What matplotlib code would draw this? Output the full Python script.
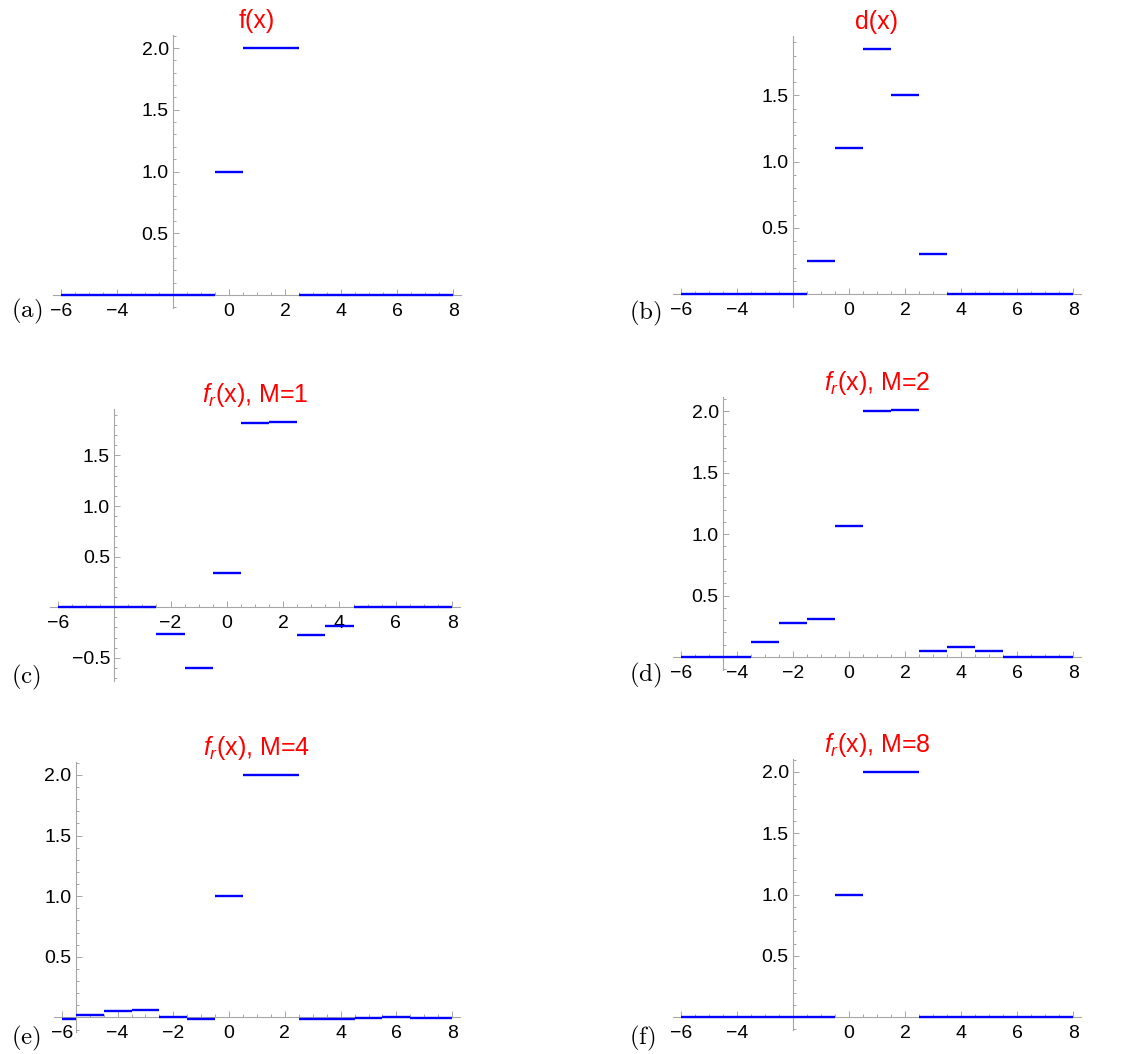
import matplotlib
matplotlib.use('Agg')
import matplotlib.pyplot as plt
import numpy as np
from matplotlib.ticker import MultipleLocator, FuncFormatter

plt.rcParams['font.family'] = ['Liberation Sans', 'DejaVu Sans']
plt.rcParams['mathtext.fontset'] = 'custom'
plt.rcParams['mathtext.it'] = 'Liberation Sans:italic'
plt.rcParams['mathtext.rm'] = 'Liberation Sans'

# sample positions (each value is a step of width 1 centred on n)
n = np.arange(-6, 9)

f_vals = [0, 0, 0, 0, 0, 0, 1, 2, 2, 0, 0, 0, 0, 0, 0]
d_vals = [0, 0, 0, 0, 0, 0.25, 1.1, 1.85, 1.5, 0.3, 0, 0, 0, 0, 0]
fr1_vals = [0, 0, 0, 0, -0.26, -0.6, 0.338, 1.817, 1.83, -0.276, -0.187, 0, 0, 0, 0]
fr2_vals = [0, 0, 0, 0.12, 0.276, 0.311, 1.066, 2.0, 2.011, 0.049, 0.079, 0.049, 0, 0, 0]
fr4_vals = [-0.01, 0.017, 0.05, 0.058, 0.006, -0.01, 1.0, 2.0, 2.0,
            -0.013, -0.01, -0.005, 0.003, -0.005, -0.008]
fr8_vals = [0, 0, 0, 0, 0, 0, 1, 2, 2, 0, 0, 0, 0, 0, 0]

titles = ["f(x)", "d(x)", r"$f_r$(x), M=1", r"$f_r$(x), M=2",
          r"$f_r$(x), M=4", r"$f_r$(x), M=8"]
letters = ["a", "b", "c", "d", "e", "f"]
series = [f_vals, d_vals, fr1_vals, fr2_vals, fr4_vals, fr8_vals]
y_axis_at = [-2, -2, -4, -4.5, -5.5, -2]

W, H = 1126, 1054
# axes boxes in pixels: left, top, right, bottom
boxes = [(53, 35, 461, 308), (673, 36, 1081, 307),
         (50, 409, 460, 681), (673, 397, 1081, 670),
         (54, 762, 460, 1032), (673, 759, 1081, 1030)]
label_pos = [(11, 311), (629, 313), (11, 677), (629, 675), (11, 1038), (629, 1038)]

AXIS_GRAY = '#a6a6a6'


def minus(s):
    return s.replace('-', '\u2212')


fig = plt.figure(figsize=(W / 100, H / 100), dpi=100)

for i in range(6):
    l, t, r, b = boxes[i]
    ax = fig.add_axes([l / W, 1 - b / H, (r - l) / W, (b - t) / H])
    vals = np.array(series[i], dtype=float)
    left = np.maximum(n - 0.5, -6)
    right = np.minimum(n + 0.5, 8)
    ax.hlines(vals, left, right, colors='#0000ff', lw=1.7, zorder=4)

    lo, hi = min(vals.min(), 0), vals.max()
    pad = (hi - lo) * 0.053
    ax.set_ylim(lo - pad, hi + pad)
    ax.set_xlim(-6.28, 8.28)

    x0 = y_axis_at[i]
    for s in ['top', 'right']:
        ax.spines[s].set_visible(False)
    ax.spines['bottom'].set_position(('data', 0))
    ax.spines['left'].set_position(('data', x0))
    for s in ['bottom', 'left']:
        ax.spines[s].set_color(AXIS_GRAY)
        ax.spines[s].set_linewidth(0.8)

    ax.xaxis.set_major_locator(MultipleLocator(2))
    ax.xaxis.set_minor_locator(MultipleLocator(0.5))
    ax.yaxis.set_major_locator(MultipleLocator(0.5))
    ax.yaxis.set_minor_locator(MultipleLocator(0.1))
    ax.xaxis.set_major_formatter(FuncFormatter(
        lambda v, p, x0=x0: '' if abs(v - x0) < 1e-9 else minus(f"{v:.0f}")))
    ax.yaxis.set_major_formatter(FuncFormatter(
        lambda v, p: '' if abs(v) < 1e-9 else minus(f"{v:.1f}")))
    ax.tick_params(which='both', direction='in', color=AXIS_GRAY, width=0.7,
                   labelsize=14, labelcolor='black')
    ax.tick_params(which='major', length=4)
    ax.tick_params(which='minor', length=2)
    ax.tick_params(axis='x', which='major', pad=5.5)
    ax.tick_params(axis='y', which='major', pad=3)
    ax.patch.set_alpha(0)

    ax.set_title(titles[i], color='red', fontsize=18, pad=5)

    lx, ly = label_pos[i]
    fig.text(lx / W, 1 - ly / H, r"$\mathrm{(" + letters[i] + ")}$",
             math_fontfamily='cm', fontsize=18, ha='left', va='center')

fig.savefig('out.png', dpi=100)
